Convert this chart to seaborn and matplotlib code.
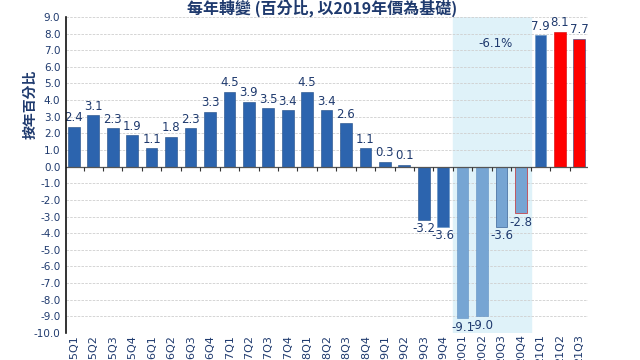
import numpy as np
import pandas as pd
import seaborn as sns
import matplotlib.pyplot as plt

sns.set_theme(style="white")
plt.rcParams['font.family'] = ['Noto Sans CJK TC', 'DejaVu Sans']

# datos del grafico
quarters = ["15Q1", "15Q2", "15Q3", "15Q4", "16Q1", "16Q2", "16Q3", "16Q4",
            "17Q1", "17Q2", "17Q3", "17Q4", "18Q1", "18Q2", "18Q3", "18Q4",
            "19Q1", "19Q2", "19Q3", "19Q4", "20Q1", "20Q2", "20Q3", "20Q4",
            "21Q1", "21Q2", "21Q3"]
values = [2.4, 3.1, 2.3, 1.9, 1.1, 1.8, 2.3, 3.3, 4.5, 3.9, 3.5, 3.4, 4.5, 3.4,
          2.6, 1.1, 0.3, 0.1, -3.2, -3.6, -9.1, -9.0, -3.6, -2.8, 7.9, 8.1, 7.7]
groups = ["hist"] * 20 + ["covid"] * 4 + ["hist"] + ["fcst"] * 2
annual_note = "-6.1%"

navy = "#1F3A6E"
colors = {"hist": "#2C64AE", "covid": "#76A5D3", "fcst": "#FF0000"}

df = pd.DataFrame({"q": quarters, "v": values, "g": groups})

fig = plt.figure(figsize=(6.4, 3.6), dpi=100)
ax = fig.add_axes([0.103, 0.075, 0.816, 0.878])

# zona sombreada 2020
covid_idx = [i for i, g in enumerate(groups) if g == "covid"]
ax.axvspan(covid_idx[0] - 0.5, covid_idx[-1] + 0.5, color="#DFF2F9", zorder=0)

for y in np.arange(-10, 10, 1):
    ax.axhline(y, color="#CFCFCF", lw=0.6, ls=(0, (3, 1.5)), zorder=0.5)

sns.barplot(data=df, x="q", y="v", hue="g", palette=colors, width=0.6,
            dodge=False, legend=False, ax=ax, zorder=2, saturation=1,
            edgecolor="#1E4A85", linewidth=0.4)
for patch, g in zip(ax.patches, groups):
    if g == "covid":
        patch.set_edgecolor("#5E8FC2")
    elif g == "fcst":
        patch.set_edgecolor("#D00000")

ax.axhline(0, color="#555555", lw=0.9, zorder=3)
ax.vlines(np.arange(len(quarters)) - 0.5, -0.25, 0, color="#333333", lw=0.8, zorder=3)

# etiquetas de valor
for i, v in enumerate(values):
    if v >= 0:
        ax.text(i, v + 0.15, f"{v:.1f}", ha="center", va="bottom", fontsize=8.5,
                color=navy, family="DejaVu Sans", zorder=4)
    else:
        ax.text(i, v - 0.15, f"{v:.1f}", ha="center", va="top", fontsize=8.5,
                color=navy, family="DejaVu Sans", zorder=4)

ax.text(np.mean(covid_idx) + 0.2, 7.4, annual_note, ha="center", va="center",
        fontsize=8.5, color=navy, family="DejaVu Sans")

ax.set_xlim(-0.41, len(quarters) - 0.54)
ax.set_ylim(-10, 9)
ax.set_yticks(np.arange(-10, 10, 1))
ax.set_yticklabels([f"{t:.1f}" for t in np.arange(-10, 10, 1)], family="DejaVu Sans")
ax.tick_params(axis="y", labelsize=7.5, colors=navy, length=4, width=1.2,
               direction="inout", pad=2)
ax.tick_params(axis="x", labelsize=8, colors=navy, length=0, pad=1,
               labelrotation=90)
for lbl in ax.get_xticklabels():
    lbl.set_family("DejaVu Sans")
    lbl.set_ha("center")
    lbl.set_va("top")

for s in ["top", "right", "bottom"]:
    ax.spines[s].set_visible(False)
ax.spines["left"].set_color("#111111")
ax.spines["left"].set_linewidth(1.2)
ax.spines["left"].set_zorder(5)
ax.set_xlabel("")
ax.set_ylabel("")

fig.text(0.047, 0.71, "按年百分比", rotation=90, ha="center", va="center",
         fontsize=10, fontweight="bold", color=navy)
fig.text(0.503, 0.978, "每年轉變 (百分比, 以2019年價為基礎)", ha="center",
         va="center", fontsize=11.5, fontweight="bold", color=navy)

fig.savefig("out.png", dpi=100)
